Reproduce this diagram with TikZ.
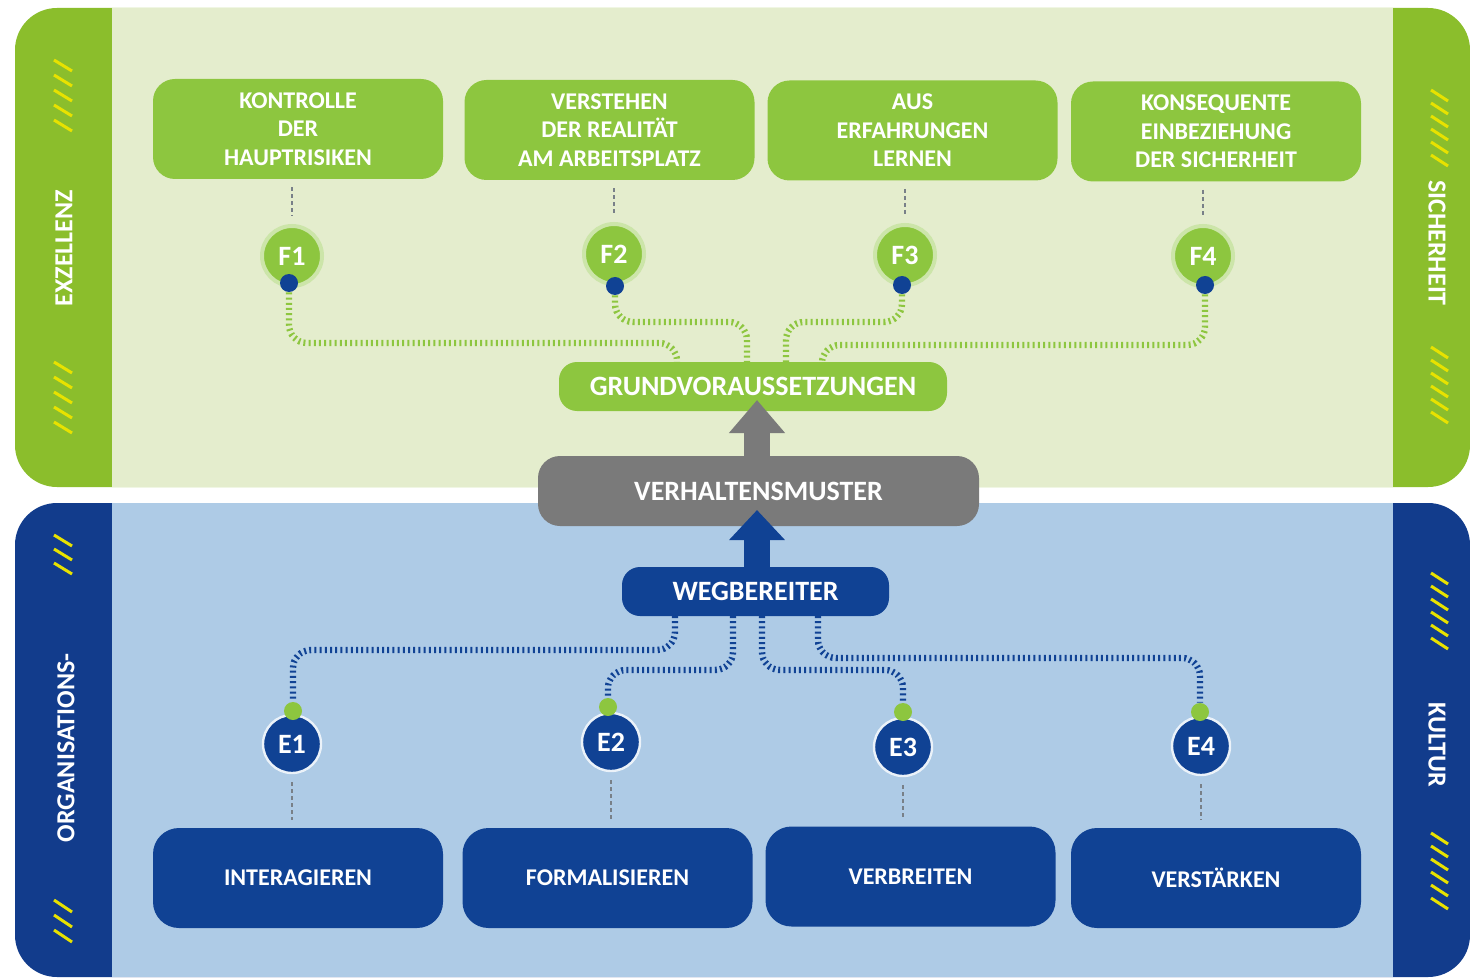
\documentclass[tikz,border=0pt]{standalone}
\usepackage{fontspec}
\setmainfont{Carlito}
\usetikzlibrary{arrows.meta}
\definecolor{bgGreen}{RGB}{228,237,205}
\definecolor{barGreen}{RGB}{139,190,44}
\definecolor{boxGreen}{RGB}{141,198,63}
\definecolor{bgBlue}{RGB}{174,203,230}
\definecolor{darkBlue}{RGB}{16,66,148}
\definecolor{barBlue}{RGB}{18,60,140}
\definecolor{greyBox}{RGB}{122,122,122}
\definecolor{hatchYellow}{RGB}{232,226,0}
\definecolor{thinGrey}{RGB}{120,128,136}
\tikzset{
 topbox/.style={fill=boxGreen, rounded corners=11pt, minimum width=145pt, minimum height=50pt, text=white, align=center, font=\fontsize{12}{14.3}\selectfont\bfseries, inner sep=0pt},
 botbox/.style={fill=darkBlue, rounded corners=13pt, minimum width=145pt, minimum height=50pt, text=white, font=\fontsize{12}{14}\selectfont\bfseries, inner sep=0pt},
 fcirc/.style={circle, fill=boxGreen, draw=boxGreen!45!white, line width=2pt, minimum size=30pt, inner sep=0pt, text=white, font=\fontsize{14}{16}\selectfont\bfseries},
 ecirc/.style={circle, fill=darkBlue, draw=white!75!bgBlue, line width=1.2pt, minimum size=29pt, inner sep=0pt, text=white, font=\fontsize{14}{16}\selectfont\bfseries},
 fdot/.style={circle, fill=darkBlue, minimum size=9pt, inner sep=0pt},
 edot/.style={circle, fill=boxGreen, minimum size=9pt, inner sep=0pt},
 gconn/.style={draw=boxGreen, line width=3.2pt, dash pattern=on 1pt off 1.6pt, rounded corners=9pt},
 bconn/.style={draw=darkBlue, line width=3.2pt, dash pattern=on 1pt off 1.6pt, rounded corners=9pt},
 thinlink/.style={draw=thinGrey, line width=0.6pt, dash pattern=on 2pt off 1.5pt, shorten <=4pt, shorten >=4pt},
 sidelabel/.style={text=white, font=\fontsize{13}{15}\selectfont\bfseries, inner sep=0pt},
 hatch/.style={draw=hatchYellow, line width=1.5pt},
 midbox/.style={text=white, font=\fontsize{14}{16}\selectfont\bfseries, inner sep=0pt}
}
\begin{document}
\begin{tikzpicture}[x=0.5pt,y=-0.5pt]
\useasboundingbox (0,0) rectangle (1470,978);
\fill[white] (0,0) rectangle (1470,978);
% top panel
\fill[barGreen, rounded corners=21pt] (15,8) rectangle (1470,487);
\fill[bgGreen] (112,8) rectangle (1393,487);
% bottom panel
\fill[barBlue, rounded corners=21pt] (15,503) rectangle (1470,977);
\fill[bgBlue] (112,503) rectangle (1393,977);

% side labels
\node[sidelabel, rotate=90] (lblExz) at (64,248) {EXZELLENZ};
\node[sidelabel, rotate=90] (lblOrg) at (66,748) {ORGANISATIONS-};
\node[sidelabel, rotate=-90] (lblSich) at (1437,243) {SICHERHEIT};
\node[sidelabel, rotate=-90] (lblKult) at (1437,745) {KULTUR};

% hatches
\foreach \y in {60,75,90,105,120}{\draw[hatch] (54,\y) -- (72,\y+11);}
\foreach \y in {362,377,392,407,422}{\draw[hatch] (54,\y) -- (72,\y+11);}
\foreach \y in {535,549,563}{\draw[hatch] (54,\y) -- (72,\y+11);}
\foreach \y in {900,915,930}{\draw[hatch] (54,\y) -- (72,\y+12);}
\foreach \y in {90,103,116,129,142,155}{\draw[hatch] (1431,\y) -- (1448,\y+11);}
\foreach \y in {347,360,373,386,399,412}{\draw[hatch] (1431,\y) -- (1448,\y+11);}
\foreach \y in {573,586,599,612,625,638}{\draw[hatch] (1431,\y) -- (1448,\y+11);}
\foreach \y in {833,846,859,872,885,898}{\draw[hatch] (1431,\y) -- (1448,\y+11);}

% top boxes
\node[topbox] (T1) at (298,129) {KONTROLLE\\DER\\HAUPTRISIKEN};
\node[topbox] (T2) at (609.5,130) {VERSTEHEN\\DER REALITÄT\\AM ARBEITSPLATZ};
\node[topbox] (T3) at (912.5,130.5) {AUS\\ERFAHRUNGEN\\LERNEN};
\node[topbox] (T4) at (1216,131.5) {KONSEQUENTE\\EINBEZIEHUNG\\DER SICHERHEIT};

% F circles
\node[fcirc] (F1) at (292,256) {F1};
\node[fcirc] (F2) at (614,254) {F2};
\node[fcirc] (F3) at (905,255) {F3};
\node[fcirc] (F4) at (1203,256) {F4};
\node[fdot] (fd1) at (289,283) {};
\node[fdot] (fd2) at (615,286) {};
\node[fdot] (fd3) at (902,285) {};
\node[fdot] (fd4) at (1205,285) {};

\draw[thinlink] (F1.north |- T1.south) -- (F1.north);
\draw[thinlink] (F2.north |- T2.south) -- (F2.north);
\draw[thinlink] (F3.north |- T3.south) -- (F3.north);
\draw[thinlink] (F4.north |- T4.south) -- (F4.north);

% GRUNDVORAUSSETZUNGEN
\node[fill=boxGreen, rounded corners=9pt, minimum width=194pt, minimum height=24.5pt, midbox] (G) at (753,386.5) {GRUNDVORAUSSETZUNGEN};
\coordinate (g1) at (677,362);
\coordinate (g2) at (747,362);
\coordinate (g3) at (786,362);
\coordinate (g4) at (822,362);
\draw[gconn] (fd1.south) |- (g1 |- 0,343) -- (g1);
\draw[gconn] (fd2.south) |- (g2 |- 0,322) -- (g2);
\draw[gconn] (fd3.south) |- (g3 |- 0,322) -- (g3);
\draw[gconn] (fd4.south) |- (g4 |- 0,345) -- (g4);

% VERHALTENSMUSTER
\node[fill=greyBox, rounded corners=11pt, minimum width=220.5pt, minimum height=35pt, midbox] (V) at (758.5,491) {VERHALTENSMUSTER};
% WEGBEREITER
\node[fill=darkBlue, rounded corners=9pt, minimum width=133.5pt, minimum height=24.5pt, midbox] (W) at (755.5,591.5) {WEGBEREITER};

% arrows
\coordinate (gtip) at (757,400);
\coordinate (btip) at (757,510);
\draw[greyBox, line width=13pt, -{Triangle[width=27pt,length=16.5pt]}] (V.north -| gtip) -- (gtip);
\draw[darkBlue, line width=13pt, -{Triangle[width=27pt,length=15pt]}] (W.north -| btip) -- (btip);

% E circles
\node[ecirc] (E1) at (292,744) {E1};
\node[ecirc] (E2) at (611,742) {E2};
\node[ecirc] (E3) at (903,747) {E3};
\node[ecirc] (E4) at (1201,746) {E4};
\node[edot] (ed1) at (293,711) {};
\node[edot] (ed2) at (608,707) {};
\node[edot] (ed3) at (903,712) {};
\node[edot] (ed4) at (1200,712) {};

\coordinate (w1) at (675,616);
\coordinate (w2) at (733,616);
\coordinate (w3) at (762,616);
\coordinate (w4) at (818,616);
\draw[bconn] (w1) |- (ed1 |- 0,650) -- (ed1.north);
\draw[bconn] (w2) |- (ed2 |- 0,670) -- (ed2.north);
\draw[bconn] (w3) |- (ed3 |- 0,670) -- (ed3.north);
\draw[bconn] (w4) |- (ed4 |- 0,658) -- (ed4.north);

% bottom boxes
\node[botbox] (B1) at (298,878) {INTERAGIEREN};
\node[botbox] (B2) at (607.5,878) {FORMALISIEREN};
\node[botbox] (B3) at (910.5,876.5) {VERBREITEN};
\node[botbox] (B4) at (1216,878) {VERSTÄRKEN};

\draw[thinlink] (E1.south) -- (E1.south |- B1.north);
\draw[thinlink] (E2.south) -- (E2.south |- B2.north);
\draw[thinlink] (E3.south) -- (E3.south |- B3.north);
\draw[thinlink] (E4.south) -- (E4.south |- B4.north);
\end{tikzpicture}
\end{document}
